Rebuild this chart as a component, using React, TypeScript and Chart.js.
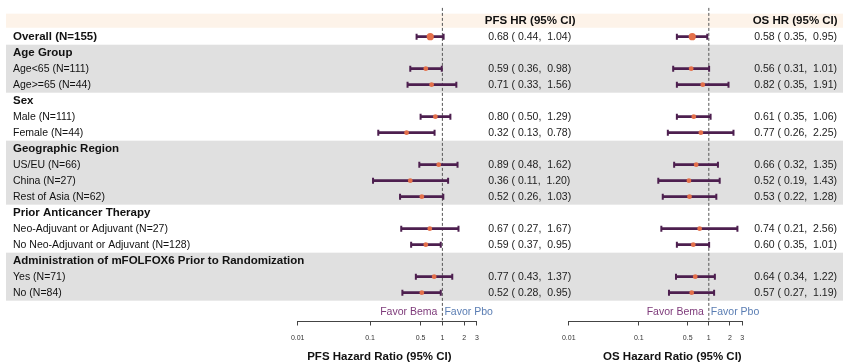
import React, { useEffect, useRef } from "react";
import { Chart, registerables } from "chart.js";

Chart.register(...registerables);

// ---------- data ----------
const rowLabels = [
  "Overall (N=155)",
  "Age Group",
  "Age<65 (N=111)",
  "Age>=65 (N=44)",
  "Sex",
  "Male (N=111)",
  "Female (N=44)",
  "Geographic Region",
  "US/EU (N=66)",
  "China (N=27)",
  "Rest of Asia (N=62)",
  "Prior Anticancer Therapy",
  "Neo-Adjuvant or Adjuvant (N=27)",
  "No Neo-Adjuvant or Adjuvant (N=128)",
  "Administration of mFOLFOX6 Prior to Randomization",
  "Yes (N=71)",
  "No (N=84)",
];
const boldRows = [true, true, false, false, true, false, false, true, false, false, false, true, false, false, true, false, false];

const pfsHR = [0.68, null, 0.59, 0.71, null, 0.80, 0.32, null, 0.89, 0.36, 0.52, null, 0.67, 0.59, null, 0.77, 0.52];
const pfsLow = [0.44, null, 0.36, 0.33, null, 0.50, 0.13, null, 0.48, 0.11, 0.26, null, 0.27, 0.37, null, 0.43, 0.28];
const pfsHigh = [1.04, null, 0.98, 1.56, null, 1.29, 0.78, null, 1.62, 1.20, 1.03, null, 1.67, 0.95, null, 1.37, 0.95];

const osHR = [0.58, null, 0.56, 0.82, null, 0.61, 0.77, null, 0.66, 0.52, 0.53, null, 0.74, 0.60, null, 0.64, 0.57];
const osLow = [0.35, null, 0.31, 0.35, null, 0.35, 0.26, null, 0.32, 0.19, 0.22, null, 0.21, 0.35, null, 0.34, 0.27];
const osHigh = [0.95, null, 1.01, 1.91, null, 1.06, 2.25, null, 1.35, 1.43, 1.28, null, 2.56, 1.01, null, 1.22, 1.19];

const shadedGroups = [
  [1, 3],
  [7, 10],
  [14, 16],
];

const tickValues = [0.01, 0.1, 0.5, 1, 2, 3];
const tickLabels = ["0.01", "0.1", "0.5", "1", "2", "3"];

const pfsColumnTitle = "PFS HR (95% CI)";
const osColumnTitle = "OS HR (95% CI)";
const pfsAxisTitle = "PFS Hazard Ratio (95% CI)";
const osAxisTitle = "OS Hazard Ratio (95% CI)";
const favorLeftText = "Favor Bema";
const favorRightText = "Favor Pbo";

// ---------- styles ----------
const FONT = '"Liberation Sans", Arial, Helvetica, sans-serif';
const PURPLE = "#4d1f4f";
const ORANGE = "#e4704a";
const GRAY_BAND = "#e0e0e0";
const PEACH_BAND = "#fdf3e9";

const Y_MIN = -2.294;
const Y_MAX = 17.74;
const AXIS_BOX_HEIGHT = 42.5;

function fmt(v: number) {
  return v.toFixed(2);
}

function ciBars(hr: (number | null)[], lo: (number | null)[], hi: (number | null)[], axis: string) {
  const data: any[] = [];
  hr.forEach((v, i) => {
    if (v != null) data.push({ x: [lo[i], hi[i]], y: i });
  });
  return {
    type: "bar",
    data,
    xAxisID: axis,
    yAxisID: "y",
    indexAxis: "y",
    backgroundColor: PURPLE,
    borderWidth: 0,
    barThickness: 2,
    grouped: false,
    order: 3,
  };
}

function ciCaps(hr: (number | null)[], lo: (number | null)[], hi: (number | null)[], axis: string) {
  const data: any[] = [];
  hr.forEach((v, i) => {
    if (v != null) {
      data.push({ x: lo[i], y: i });
      data.push({ x: hi[i], y: i });
    }
  });
  return {
    type: "scatter",
    data,
    xAxisID: axis,
    yAxisID: "y",
    pointStyle: "line",
    rotation: 90,
    pointRadius: 3,
    pointBorderWidth: 2,
    pointBorderColor: PURPLE,
    borderColor: PURPLE,
    order: 2,
  };
}

function estPoints(hr: (number | null)[], axis: string) {
  const data: any[] = [];
  hr.forEach((v, i) => {
    if (v != null) data.push({ x: v, y: i });
  });
  return {
    type: "scatter",
    data,
    xAxisID: axis,
    yAxisID: "y",
    pointStyle: "circle",
    pointRadius: (ctx: any) => (ctx.raw && ctx.raw.y === 0 ? 3.6 : 2.4),
    pointBackgroundColor: ORANGE,
    backgroundColor: ORANGE,
    pointBorderWidth: 0,
    borderWidth: 0,
    order: 1,
  };
}

function refLine(axis: string) {
  return {
    type: "line",
    data: [
      { x: 1, y: -1.8 },
      { x: 1, y: Y_MAX },
    ],
    xAxisID: axis,
    yAxisID: "y",
    borderColor: "#555555",
    borderWidth: 1,
    borderDash: [3, 2],
    pointRadius: 0,
    fill: false,
    tension: 0,
    order: 5,
  };
}

function hrAxis(min: number, max: number, weight: number, title: string, order: number) {
  return {
    type: "logarithmic",
    axis: "x",
    position: "bottom",
    stack: "bottomStack",
    stackWeight: weight,
    weight: order,
    offset: false,
    min,
    max,
    afterBuildTicks: (scale: any) => {
      scale.ticks = tickValues.map((v) => ({ value: v }));
    },
    ticks: {
      autoSkip: false,
      maxRotation: 0,
      minRotation: 0,
      padding: 0,
      color: "#333333",
      font: { family: FONT, size: 7, lineHeight: 26 / 7 },
      callback: (value: number) => {
        const i = tickValues.indexOf(value);
        return i >= 0 ? tickLabels[i] : "";
      },
    },
    grid: {
      display: true,
      drawOnChartArea: false,
      drawTicks: true,
      tickLength: 5,
      color: "#444444",
      lineWidth: 1,
      offset: false,
    },
    border: { display: false },
    title: {
      display: true,
      text: title,
      color: "#111111",
      padding: 0,
      font: { family: FONT, size: 11.5, weight: "bold", lineHeight: 1 },
    },
  };
}

// invisible spacer axes that hold the horizontal gaps between the two panels
function spacerAxis(weight: number, order: number) {
  return {
    type: "linear",
    axis: "x",
    position: "bottom",
    stack: "bottomStack",
    stackWeight: weight,
    weight: order,
    offset: false,
    min: 0,
    max: 1,
    display: true,
    ticks: { display: false, padding: 0 },
    grid: { display: false, drawTicks: false, offset: false },
    border: { display: false },
    title: {
      display: true,
      text: "",
      padding: 0,
      font: { family: FONT, size: 10, lineHeight: AXIS_BOX_HEIGHT / 10 },
    },
  };
}

const decorPlugin = {
  id: "forestDecor",
  beforeDatasetsDraw(chart: any) {
    const { ctx } = chart;
    const y = chart.scales.y;
    const left = 6;
    const right = chart.width - 7;
    ctx.save();
    ctx.fillStyle = PEACH_BAND;
    const pt = y.getPixelForValue(-1.44);
    const pb = y.getPixelForValue(-0.56);
    ctx.fillRect(left, pt, right - left, pb - pt);
    ctx.fillStyle = GRAY_BAND;
    shadedGroups.forEach(([a, b]) => {
      const t = y.getPixelForValue(a - 0.5);
      const bt = y.getPixelForValue(b + 0.5);
      ctx.fillRect(left, t, right - left, bt - t);
    });
    ctx.restore();
  },
  afterDatasetsDraw(chart: any) {
    const { ctx } = chart;
    const y = chart.scales.y;
    const xp = chart.scales.xp;
    const xo = chart.scales.xo;
    ctx.save();
    ctx.textBaseline = "alphabetic";
    // row labels
    rowLabels.forEach((lab, i) => {
      const py = y.getPixelForValue(i) + 3;
      ctx.fillStyle = "#111111";
      ctx.textAlign = "left";
      ctx.font = boldRows[i] ? `bold 11.5px ${FONT}` : `10.5px ${FONT}`;
      ctx.fillText(lab, 13, py);
    });
    // column headers
    const hy = y.getPixelForValue(-1) + 3.5;
    ctx.font = `bold 11.5px ${FONT}`;
    ctx.fillStyle = "#111111";
    ctx.textAlign = "left";
    ctx.fillText(pfsColumnTitle, xp.right + 3, hy);
    ctx.fillText(osColumnTitle, xo.right - 31, hy);
    // HR text
    ctx.font = `10.5px ${FONT}`;
    ctx.fillStyle = "#222222";
    pfsHR.forEach((v, i) => {
      if (v == null) return;
      const py = y.getPixelForValue(i) + 3;
      ctx.fillText(`${fmt(v)} ( ${fmt(pfsLow[i] as number)},  ${fmt(pfsHigh[i] as number)})`, xp.right + 6.5, py);
    });
    osHR.forEach((v, i) => {
      if (v == null) return;
      const py = y.getPixelForValue(i) + 3;
      ctx.fillText(`${fmt(v)} ( ${fmt(osLow[i] as number)},  ${fmt(osHigh[i] as number)})`, xo.right - 29.5, py);
    });
    // favor labels and axis lines
    [xp, xo].forEach((sc: any) => {
      const one = sc.getPixelForValue(1);
      const fy = y.getPixelForValue(17.2) + 3.5;
      ctx.font = `10.5px ${FONT}`;
      ctx.textAlign = "right";
      ctx.fillStyle = "#7e3a7a";
      ctx.fillText(favorLeftText, one - 5, fy);
      ctx.textAlign = "left";
      ctx.fillStyle = "#5a7db3";
      ctx.fillText(favorRightText, one + 2, fy);

      const ly = Math.round(sc.top) + 0.5;
      ctx.strokeStyle = "#444444";
      ctx.lineWidth = 1;
      ctx.beginPath();
      ctx.moveTo(sc.getPixelForValue(tickValues[0]), ly);
      ctx.lineTo(sc.getPixelForValue(tickValues[tickValues.length - 1]), ly);
      ctx.stroke();
    });
    ctx.restore();
  },
};

export default function App() {
  const canvasRef = useRef<HTMLCanvasElement | null>(null);

  useEffect(() => {
    if (!canvasRef.current) return;
    const chart = new Chart(canvasRef.current, {
      type: "scatter",
      data: {
        datasets: [
          refLine("xp"),
          refLine("xo"),
          ciBars(pfsHR, pfsLow, pfsHigh, "xp"),
          ciBars(osHR, osLow, osHigh, "xo"),
          ciCaps(pfsHR, pfsLow, pfsHigh, "xp"),
          ciCaps(osHR, osLow, osHigh, "xo"),
          estPoints(pfsHR, "xp"),
          estPoints(osHR, "xo"),
        ] as any,
      },
      options: {
        responsive: false,
        animation: false,
        events: [],
        layout: { padding: 0, autoPadding: false },
        plugins: {
          legend: { display: false },
          tooltip: { enabled: false },
          title: { display: false },
        },
        scales: {
          y: {
            type: "linear",
            reverse: true,
            offset: false,
            min: Y_MIN,
            max: Y_MAX,
            display: false,
            grid: { offset: false },
          },
          s0: spacerAxis(275, 1),
          xp: hrAxis(0.005187, 3.5, 205.4, pfsAxisTitle, 2),
          s1: spacerAxis(79.6, 3),
          xo: hrAxis(0.007772, 11.7, 223.4, osAxisTitle, 4),
          s2: spacerAxis(66.6, 5),
        } as any,
      },
      plugins: [decorPlugin],
    } as any);
    return () => chart.destroy();
  }, []);

  return (
    <div style={{ position: "fixed", left: 0, top: 0, width: 850, height: 363, background: "#ffffff" }}>
      <canvas ref={canvasRef} width={850} height={363} style={{ display: "block" }} />
    </div>
  );
}
